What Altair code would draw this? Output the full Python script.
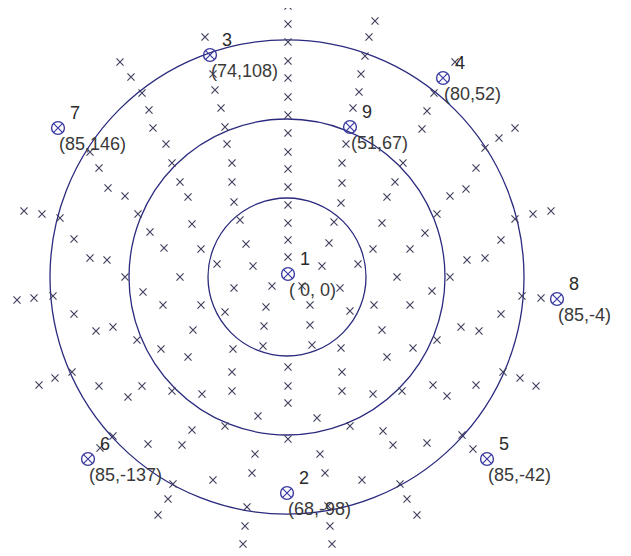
import altair as alt
import pandas as pd

# Scatter "x" markers: offsets from the circles' centre (x right, y up)
cross_x = [1, 1, 1, 1, 1, 1, 1, 1, 1, 1, 1, 1, 1, 1, 1, 1, 1, 1, 1,
           -82, -167, -156, -145, -138, -134, -74, -72, -66, -62, -197, -121, -115, -188,
           -179, -162, -149, -227, -263, -245, -213, -197, -180, -162, -137, -123, -107,
           -99, -95, -86, -107, -70, -60, -55, -55, -53, -47, -41, -34,
           88, 82, 78, 74, 72, 66, 168, 147, 140, 135, 228, 212, 59, 55, 55, 54, 47, 42,
           35, 71, 86, 95, 100, 108, 116, 123, 138, 150, 163, 179, 189, 198, 228, 246,
           264, 214, 180, 198, 110, 163,
           254, 235, 214, 174, 192, 216, 233, 249, 189, 160, 146, 150, 145, 123, 87, 63,
           53, 15, 23, 23, 25, 54, 95, 100, 126, 55, 55, 86, 115, 30, 63, 96, 106, 140,
           175, 186, 33, 38, 75, 113, 120, 130, 41, 43, 45,
           -270, -253, -234, -213, -191, -174, -248, -232, -215, -188, -159, -145, -150,
           -144, -124, -86, -94, -126, -99, -115, -85, -54, -55, -55, -62, -53, -15, -21,
           -23, -24, -29, -62, -95, -105, -139, -174, -187, -114, -119, -129, -74, -35,
           -32, -40, -42, -44]
cross_y = [271, 253, 235, 216, 199, 180, 162, 144, 125, 108, 90, 72, 54, 37, 20,
           -90, -109, -126, -162,
           240, 215, 200, 184, 167, 149, 203, 187, 169, 150, 125, 133, 114, 109,
           89, 81, 63, 59, 66, 63, 38, 19, 17, 0, 45, 29, 95,
           80, 53, 28, 0, 13, 133, 114, 95, 75, 57, 33, 11,
           256, 240, 221, 203, 185, 169, 215, 184, 166, 148, 149, 139, 133, 114, 94, 74,
           55, 34, 11, 13, 28, 54, 80, 95, 114, 28, 44, 63, 81, 88, 109, 129, 58, 63,
           66, 37, 17, 19, 0, 0,
           -21, -19, -37, -50, -54, -95, -101, -109, -108, -119, -108, -63, -14, -28,
           -28, -34, -11, -9, -28, -48, -68, -71, -53, -80, -71, -95, -114, -117, -114,
           -141, -149, -154, -168, -166, -158, -172, -177, -196, -203, -207, -222, -238,
           -229, -249, -267,
           -23, -21, -19, -37, -54, -50, -108, -101, -95, -109, -120, -109, -63, -15,
           -28, -28, -53, -72, -80, -114, -117, -72, -95, -114, -35, -11, -9, -30, -49,
           -69, -139, -149, -153, -168, -167, -159, -171, -207, -222, -238, -203, -196,
           -177, -230, -249, -267]

# Numbered points
pt_id = ["1", "2", "3", "4", "5", "6", "7", "8", "9"]
pt_x = [1, 0, -77, 156, 200, -199, -229, 270, 63]
pt_y = [3, -216, 222, 199, -182, -182, 149, -22, 150]
pt_coord = ["( 0, 0)", "(68,-98)", "(74,108)", "(80,52)", "(85,-42)",
            "(85,-137)", "(85,146)", "(85,-4)", "(51,67)"]

# Concentric circles
ring_radius = [79, 158, 237]

crosses = pd.DataFrame({"x": cross_x, "y": cross_y})
points = pd.DataFrame({"x": pt_x, "y": pt_y, "id": pt_id, "coord": pt_coord})
rings = pd.DataFrame({"x": [0] * len(ring_radius), "y": [0] * len(ring_radius),
                      "r": ring_radius})
rings["size"] = (2 * rings["r"]) ** 2

xs = alt.Scale(domain=[-279, 336], nice=False, zero=False)
ys = alt.Scale(domain=[-271, 269], nice=False, zero=False)
X = alt.X("x:Q", scale=xs, axis=None)
Y = alt.Y("y:Q", scale=ys, axis=None)

XPATH = "M-1,-1L1,1M-1,1L1,-1"
FONT = "Liberation Sans"

ring_layer = alt.Chart(rings).mark_point(
    shape="circle", filled=False, color="#2a2a7e", strokeWidth=1.3, opacity=1
).encode(x=X, y=Y, size=alt.Size("size:Q", scale=None, legend=None))

cross_layer = alt.Chart(crosses).mark_point(
    shape=XPATH, filled=False, color="#40405e", strokeWidth=1.15, size=50, opacity=1
).encode(x=X, y=Y)

pt_circle = alt.Chart(points).mark_point(
    shape="circle", filled=False, color="#3a3aa0", strokeWidth=1.4, size=165, opacity=1
).encode(x=X, y=Y)

pt_cross = alt.Chart(points).mark_point(
    shape=XPATH, filled=False, color="#3a3aa0", strokeWidth=1.2, size=85, opacity=1
).encode(x=X, y=Y)

id_text = alt.Chart(points).mark_text(
    font=FONT, fontSize=18, color="#2a2a2a", dx=17, dy=-14, align="center",
    baseline="middle"
).encode(x=X, y=Y, text="id:N")

coord_text = alt.Chart(points).mark_text(
    font=FONT, fontSize=18, color="#3a3a3a", dx=1, dy=17, align="left",
    baseline="middle"
).encode(x=X, y=Y, text="coord:N")

chart = alt.layer(ring_layer, cross_layer, pt_circle, pt_cross, id_text, coord_text).properties(
    width=615, height=540, padding=0, autosize="none", background="white"
).configure_view(stroke=None)

chart.save("out.html", embed_options={"renderer": "svg", "actions": False})
